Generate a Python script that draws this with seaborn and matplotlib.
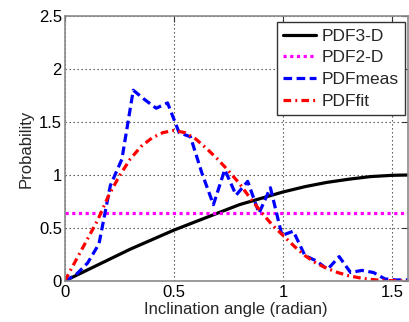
import numpy as np
import pandas as pd
import matplotlib
matplotlib.use("Agg")
import matplotlib.pyplot as plt
import seaborn as sns

# ---- data ----
x_3d = [0.0, 0.1, 0.2, 0.3, 0.4, 0.5, 0.6, 0.7, 0.8, 0.9, 1.0, 1.1, 1.2, 1.3, 1.4, 1.5, 1.5708]
y_3d = [0.0, 0.10, 0.20, 0.30, 0.39, 0.48, 0.56, 0.64, 0.72, 0.78, 0.84, 0.89, 0.93, 0.96, 0.985, 0.997, 1.0]

x_2d = [0.0, 1.5708]
y_2d = [0.637, 0.637]

x_meas = [0.0, 0.052, 0.105, 0.157, 0.209, 0.262, 0.314, 0.367, 0.419, 0.471, 0.524,
          0.576, 0.628, 0.681, 0.733, 0.785, 0.838, 0.890, 0.942, 0.995, 1.047,
          1.100, 1.152, 1.204, 1.257, 1.309, 1.361, 1.414, 1.466, 1.518, 1.571]
y_meas = [0.0, 0.06, 0.17, 0.35, 0.90, 1.15, 1.80, 1.71, 1.63, 1.68, 1.40,
          1.36, 1.02, 0.72, 1.05, 0.81, 0.94, 0.64, 0.88, 0.43, 0.47,
          0.24, 0.19, 0.11, 0.23, 0.08, 0.10, 0.08, 0.02, 0.01, 0.01]

x_fit = [0.0, 0.05, 0.1, 0.15, 0.2, 0.25, 0.3, 0.35, 0.4, 0.45, 0.5, 0.55, 0.6, 0.65,
         0.7, 0.75, 0.8, 0.85, 0.9, 0.95, 1.0, 1.05, 1.1, 1.15, 1.2, 1.25, 1.3, 1.35,
         1.4, 1.45, 1.5, 1.5708]
y_fit = [0.0, 0.19, 0.38, 0.57, 0.80, 0.99, 1.15, 1.27, 1.35, 1.40, 1.42, 1.40, 1.34, 1.25,
         1.15, 1.04, 0.92, 0.78, 0.65, 0.53, 0.43, 0.33, 0.24, 0.17, 0.12, 0.08, 0.05, 0.03,
         0.015, 0.007, 0.003, 0.0]

x_ticks = [0, 0.5, 1, 1.5]
x_ticklabels = ["0", "0.5", "1", "1.5"]
y_ticks = [0, 0.5, 1, 1.5, 2, 2.5]
y_ticklabels = ["0", "0.5", "1", "1.5", "2", "2.5"]

sns.set_style("white")
plt.rcParams["font.family"] = ["Liberation Sans", "DejaVu Sans"]

fig = plt.figure(figsize=(4.09, 3.22), dpi=100)
ax = fig.add_axes([64.7 / 409, 1 - 281 / 322, (407.7 - 64.7) / 409, (281 - 16) / 322])

sns.lineplot(x=x_3d, y=y_3d, ax=ax, color="black", lw=2.3, label="PDF3-D",
             linestyle="-")
sns.lineplot(x=x_2d, y=y_2d, ax=ax, color="#FF00FF", lw=2.3, label="PDF2-D",
             linestyle=(0, (1.0, 1.1)), dash_capstyle="butt")
sns.lineplot(x=x_meas, y=y_meas, ax=ax, color="#0000FF", lw=2.3, label="PDFmeas",
             linestyle=(0, (2.7, 1.4)), sort=False)
sns.lineplot(x=x_fit, y=y_fit, ax=ax, color="#FF0000", lw=2.3, label="PDFfit",
             linestyle=(0, (2.4, 1.3, 0.6, 1.3)))

ax.set_xlim(0, 1.5708)
ax.set_ylim(0, 2.5)
ax.set_xticks(x_ticks)
ax.set_xticklabels(x_ticklabels)
ax.set_yticks(y_ticks)
ax.set_yticklabels(y_ticklabels)
ax.tick_params(direction="in", length=4, width=0.8, color="#333333",
               labelsize=12, pad=3, top=True, right=True,
               labelcolor="black")
ax.tick_params(axis="y", pad=2)
ax.grid(True, linestyle=(0, (1.2, 2.4)), color="#444444", lw=0.8)
for s in ax.spines.values():
    s.set_color("#8a8a8a")
    s.set_linewidth(1.2)
    s.set_visible(True)

ax.set_xlabel("Inclination angle (radian)", fontsize=12, labelpad=1)
ax.set_ylabel("Probability", fontsize=12, labelpad=4)

leg = ax.legend(loc="upper right", bbox_to_anchor=(404.5 / 409, 1 - 22.5 / 322),
                bbox_transform=fig.transFigure, fontsize=12.5, frameon=True,
                fancybox=False, edgecolor="#333333", framealpha=1,
                handlelength=1.9, handletextpad=0.3, labelspacing=0.38,
                borderpad=0.35, borderaxespad=0)
leg.get_frame().set_linewidth(1.0)

fig.savefig("out.png", dpi=100)
